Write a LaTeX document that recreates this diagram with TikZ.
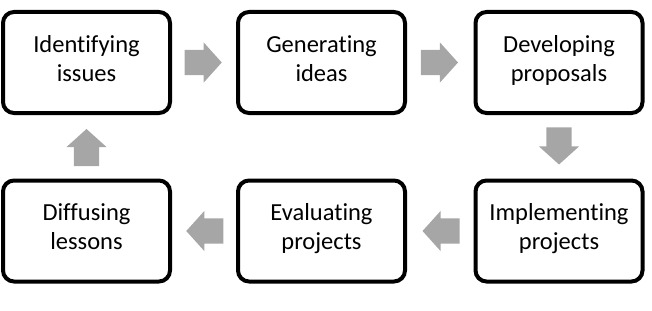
\documentclass[tikz,border=0pt]{standalone}
\usepackage{fontspec}
\setmainfont[Ligatures=NoCommon]{Carlito}
\usetikzlibrary{shapes.arrows,calc}
\definecolor{arrowgray}{RGB}{166,166,166}
\begin{document}
\begin{tikzpicture}[x=1pt,y=-1pt,
  stage/.style={draw=black, line width=4pt, rounded corners=11pt,
    minimum width=167pt, minimum height=101pt, align=center,
    font=\fontsize{24.5}{29}\selectfont, inner sep=0pt,
    execute at begin node={\rule{0pt}{26pt}},
    execute at end node={\rule[-8.7pt]{0pt}{8.7pt}}},
  blockarrow/.style={single arrow, fill=arrowgray, draw=none,
    minimum height=37pt, single arrow head extend=7.5pt,
    single arrow tip angle=96, inner xsep=0pt, inner ysep=12.5pt,
    anchor=tip}]
\useasboundingbox (0,0) rectangle (652,310);
\node[stage] (b1) at (86.5,62.5) {Identifying\\issues};
\node[stage] (b2) at (321.5,62.5) {Generating\\ideas};
\node[stage] (b3) at (559,62.5) {Developing\\proposals};
\node[stage] (b4) at (86.5,231) {Diffusing\\lessons};
\node[stage] (b5) at (321.5,231) {Evaluating\\projects};
\node[stage] (b6) at (559,231) {Implementing\\projects};
\node[blockarrow] (a1) at ($(b1.east)!0.5!(b2.west)+(18,0)$) {};
\node[blockarrow] (a2) at ($(b2.east)!0.5!(b3.west)+(18,0)$) {};
\node[blockarrow, rotate=-90] (a3) at ($(b3.south)!0.5!(b6.north)+(0,18)$) {};
\node[blockarrow, rotate=180] (a4) at ($(b6.west)!0.5!(b5.east)+(-18,0)$) {};
\node[blockarrow, rotate=180] (a5) at ($(b5.west)!0.5!(b4.east)+(-18,0)$) {};
\node[blockarrow, rotate=90] (a6) at ($(b4.north)!0.5!(b1.south)+(0,-18)$) {};
\end{tikzpicture}
\end{document}
